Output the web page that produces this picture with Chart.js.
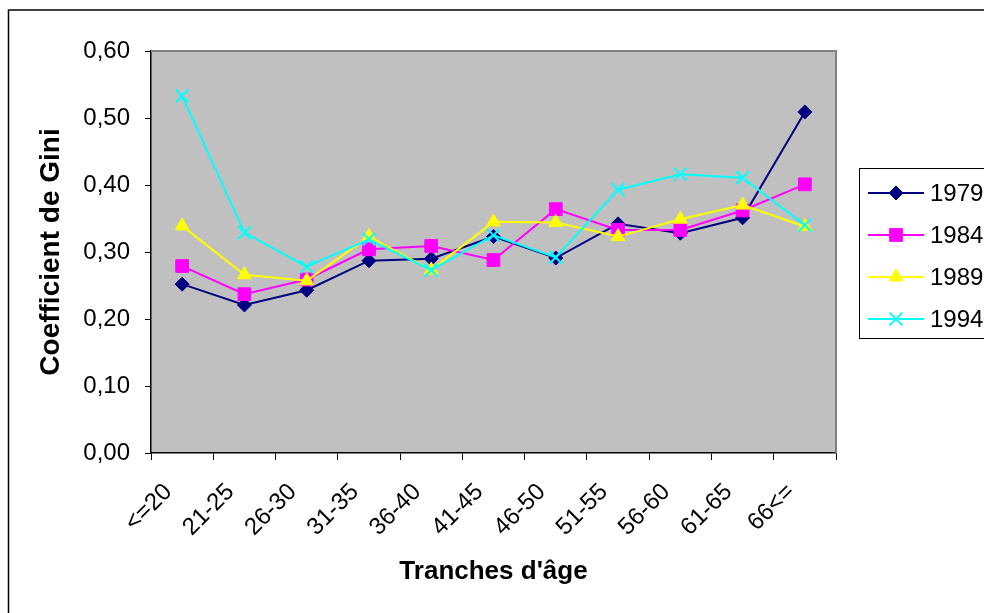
<!DOCTYPE html>
<html>
<head>
<meta charset="utf-8">
<script src="https://cdn.jsdelivr.net/npm/chart.js@4.4.0/dist/chart.umd.min.js"></script>
<style>
  html, body { margin: 0; padding: 0; background: #fff; overflow: hidden; }
  #wrap { width: 984px; height: 613px; }
</style>
</head>
<body>
<div id="wrap"><canvas id="gini" width="984" height="613"></canvas></div>
<script>
// age brackets and Gini coefficient per survey year
const tranches = ['<=20', '21-25', '26-30', '31-35', '36-40', '41-45', '46-50', '51-55', '56-60', '61-65', '66<='];
const annees = ['1979', '1984', '1989', '1994'];
const gini1979 = [0.252, 0.221, 0.243, 0.287, 0.290, 0.323, 0.291, 0.342, 0.328, 0.351, 0.509];
const gini1984 = [0.279, 0.237, 0.259, 0.304, 0.309, 0.288, 0.364, 0.333, 0.333, 0.362, 0.401];
const gini1989 = [0.339, 0.266, 0.257, 0.323, 0.273, 0.345, 0.344, 0.323, 0.349, 0.370, 0.338];
const gini1994 = [0.533, 0.329, 0.278, 0.319, 0.273, 0.325, 0.292, 0.393, 0.416, 0.411, 0.340];

const FONT = 'Arial, "Liberation Sans", sans-serif';
Chart.defaults.color = '#000';
Chart.defaults.font.family = FONT;

function serie(label, data, color, style, radius, order) {
    return {
        label: label,
        data: data,
        borderColor: color,
        backgroundColor: color,
        borderWidth: 2,
        pointStyle: style,
        pointRadius: radius,
        pointHoverRadius: radius,
        pointBorderWidth: style === 'crossRot' ? 2 : 1,
        pointBackgroundColor: color,
        pointBorderColor: color,
        tension: 0,
        order: order
    };
}

// grey plot background, outer frame and the side legend
const decor = {
    id: 'decor',
    beforeDraw(chart) {
        const ctx = chart.ctx;
        const a = chart.chartArea;
        ctx.save();
        ctx.fillStyle = '#fff';
        ctx.fillRect(0, 0, chart.width, chart.height);
        ctx.strokeStyle = '#000';
        ctx.lineWidth = 1.5;
        ctx.strokeRect(8.5, 10, 1100, 1000);
        ctx.fillStyle = '#c0c0c0';
        ctx.fillRect(a.left, a.top, a.right - a.left, a.bottom - a.top);
        ctx.restore();
    },
    beforeDatasetsDraw(chart) {
        const ctx = chart.ctx;
        const a = chart.chartArea;
        ctx.save();
        ctx.strokeStyle = '#808080';
        ctx.lineWidth = 2;
        ctx.beginPath();
        ctx.moveTo(a.left, a.top);
        ctx.lineTo(a.right, a.top);
        ctx.lineTo(a.right, a.bottom);
        ctx.stroke();
        ctx.restore();
    },
    afterDraw(chart) {
        const ctx = chart.ctx;
        ctx.save();
        ctx.strokeStyle = '#000';
        ctx.lineWidth = 1;
        ctx.strokeRect(859.5, 168.5, 200, 170);
        const rows = [193, 235, 277, 319];
        ctx.font = '24px ' + FONT;
        ctx.textBaseline = 'middle';
        ctx.textAlign = 'left';
        chart.data.datasets.forEach((ds, i) => {
            const y = rows[i];
            ctx.strokeStyle = ds.borderColor;
            ctx.lineWidth = 2;
            ctx.beginPath();
            ctx.moveTo(868, y);
            ctx.lineTo(924, y);
            ctx.stroke();
            ctx.fillStyle = ds.pointBackgroundColor;
            ctx.strokeStyle = ds.pointBorderColor;
            ctx.lineWidth = ds.pointBorderWidth;
            Chart.helpers.drawPoint(ctx, {
                pointStyle: ds.pointStyle,
                radius: ds.pointRadius,
                rotation: 0,
                borderWidth: ds.pointBorderWidth
            }, 896, y);
            ctx.fillStyle = '#000';
            ctx.fillText(ds.label, 930, y + 1);
        });
        ctx.restore();
    }
};

new Chart('gini', {
    type: 'line',
    data: {
        labels: tranches,
        datasets: [
            serie(annees[0], gini1979, '#000080', 'rectRot', 7, 4),
            serie(annees[1], gini1984, '#ff00ff', 'rect', 9, 3),
            serie(annees[2], gini1989, '#ffff00', 'triangle', 8, 2),
            serie(annees[3], gini1994, '#00ffff', 'crossRot', 9, 1)
        ]
    },
    options: {
        responsive: false,
        animation: false,
        devicePixelRatio: 1,
        layout: { padding: { top: 51, right: 148, left: 0, bottom: 0 } },
        plugins: {
            legend: { display: false },
            tooltip: { enabled: false }
        },
        scales: {
            x: {
                offset: true,
                afterFit(scale) { scale.height = 160; },
                grid: {
                    offset: true,
                    drawOnChartArea: false,
                    drawTicks: true,
                    tickLength: 7,
                    color: '#000'
                },
                border: { display: true, color: '#000', width: 1.5 },
                ticks: {
                    minRotation: 45,
                    maxRotation: 45,
                    padding: 18,
                    labelOffset: -14,
                    font: { size: 24 },
                    autoSkip: false
                },
                title: {
                    display: true,
                    text: "Tranches d'âge",
                    font: { size: 26, weight: 'bold' },
                    padding: { top: 0, bottom: 26 }
                }
            },
            y: {
                min: 0,
                max: 0.6,
                afterFit(scale) { scale.width = 151; },
                grid: {
                    drawOnChartArea: false,
                    drawTicks: true,
                    tickLength: 6,
                    color: '#000'
                },
                border: { display: true, color: '#000', width: 1.5 },
                ticks: {
                    stepSize: 0.1,
                    padding: 15,
                    font: { size: 24 },
                    callback: (v) => v.toFixed(2).replace('.', ',')
                },
                title: {
                    display: true,
                    text: 'Coefficient de Gini',
                    font: { size: 28, weight: 'bold' },
                    padding: { top: 34, bottom: 0 }
                }
            }
        }
    },
    plugins: [decor]
});
</script>
</body>
</html>
